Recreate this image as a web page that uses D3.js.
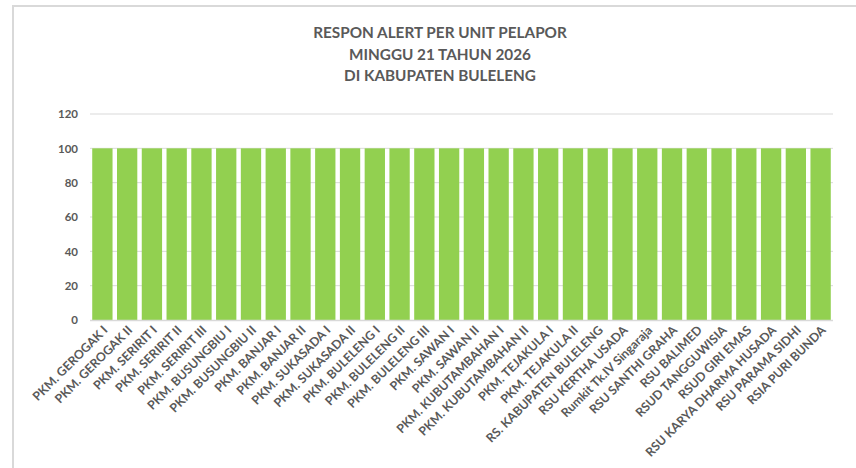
<!DOCTYPE html>
<html>
<head>
<meta charset="utf-8">
<script src="https://cdn.jsdelivr.net/npm/d3@7"></script>
<style>
  body { margin: 0; background: #fff; }
  svg text { font-family: Lato, "Liberation Sans", sans-serif; fill: #595959; }
</style>
</head>
<body>
<div id="chart"></div>
<script>
const units = [
  "PKM. GEROGAK I", "PKM. GEROGAK II", "PKM. SERIRIT I", "PKM. SERIRIT II", "PKM. SERIRIT III",
  "PKM. BUSUNGBIU I", "PKM. BUSUNGBIU II", "PKM. BANJAR I", "PKM. BANJAR II", "PKM. SUKASADA I",
  "PKM. SUKASADA II", "PKM. BULELENG I", "PKM. BULELENG II", "PKM. BULELENG III", "PKM. SAWAN I",
  "PKM. SAWAN II", "PKM. KUBUTAMBAHAN I", "PKM. KUBUTAMBAHAN II", "PKM. TEJAKULA I", "PKM. TEJAKULA II",
  "RS. KABUPATEN BULELENG", "RSU KERTHA USADA", "Rumkit Tk.IV Singaraja", "RSU SANTHI GRAHA", "RSU BALIMED",
  "RSUD TANGGUWISIA", "RSUD GIRI EMAS", "RSU KARYA DHARMA HUSADA", "RSU PARAMA SIDHI", "RSIA PURI BUNDA"
];
const respon = [
  100, 100, 100, 100, 100, 100, 100, 100, 100, 100,
  100, 100, 100, 100, 100, 100, 100, 100, 100, 100,
  100, 100, 100, 100, 100, 100, 100, 100, 100, 100
];
const yTicks = [0, 20, 40, 60, 80, 100, 120];
const titleLines = ["RESPON ALERT PER UNIT PELAPOR", "MINGGU 21 TAHUN 2026", "DI KABUPATEN BULELENG"];

const width = 856, height = 468;
const plotLeft = 90, plotRight = 833, plotTop = 114, plotBottom = 320;

const svg = d3.select('#chart').append('svg')
  .attr('width', width)
  .attr('height', height);

// chart frame
svg.append('rect')
  .attr('x', 13).attr('y', 6)
  .attr('width', 860).attr('height', 480)
  .attr('fill', 'none')
  .attr('stroke', '#d9d9d9')
  .attr('stroke-width', 2);

// title
svg.append('g').selectAll('text')
  .data(titleLines)
  .join('text')
  .attr('x', 440)
  .attr('y', (d, i) => 38 + i * 21.5)
  .attr('text-anchor', 'middle')
  .attr('font-size', 15.3)
  .attr('font-weight', 'bold')
  .text(d => d);

let x = d3.scaleBand()
  .domain(units)
  .range([plotLeft, plotRight])
  .paddingInner(0.18)
  .paddingOuter(0.09);

let y = d3.scaleLinear()
  .domain([0, 120])
  .range([plotBottom, plotTop]);

// gridlines
svg.append('g')
  .selectAll('line')
  .data(yTicks.filter(d => d > 0))
  .join('line')
  .attr('x1', plotLeft).attr('x2', plotRight)
  .attr('y1', d => y(d)).attr('y2', d => y(d))
  .attr('stroke', '#d9d9d9')
  .attr('stroke-width', 1);

// bars
svg.append('g')
  .selectAll('rect')
  .data(units)
  .join('rect')
  .attr('x', d => x(d))
  .attr('y', (d, i) => y(respon[i]))
  .attr('width', x.bandwidth())
  .attr('height', (d, i) => y(0) - y(respon[i]))
  .attr('fill', '#92d050');

// x axis line
svg.append('line')
  .attr('x1', plotLeft).attr('x2', plotRight)
  .attr('y1', y(0) + 0.5).attr('y2', y(0) + 0.5)
  .attr('stroke', '#d9d9d9')
  .attr('stroke-width', 1.5);

// y axis
let yAxis = d3.axisLeft(y).tickValues(yTicks).tickSize(0).tickPadding(12);
let yg = svg.append('g')
  .attr('transform', `translate(${plotLeft}, 0)`)
  .call(yAxis);
yg.select('.domain').remove();
yg.selectAll('text')
  .attr('font-size', 11.5)
  .attr('font-weight', 'bold')
  .style('font-family', 'Lato, sans-serif')
  .attr('fill', '#595959');

// x labels
svg.append('g')
  .selectAll('text')
  .data(units)
  .join('text')
  .attr('transform', d => `translate(${x(d) + x.bandwidth() / 2 + 6}, ${plotBottom + 11}) rotate(-45)`)
  .attr('text-anchor', 'end')
  .attr('font-size', 12.3)
  .attr('font-weight', 'bold')
  .text(d => d);
</script>
</body>
</html>
